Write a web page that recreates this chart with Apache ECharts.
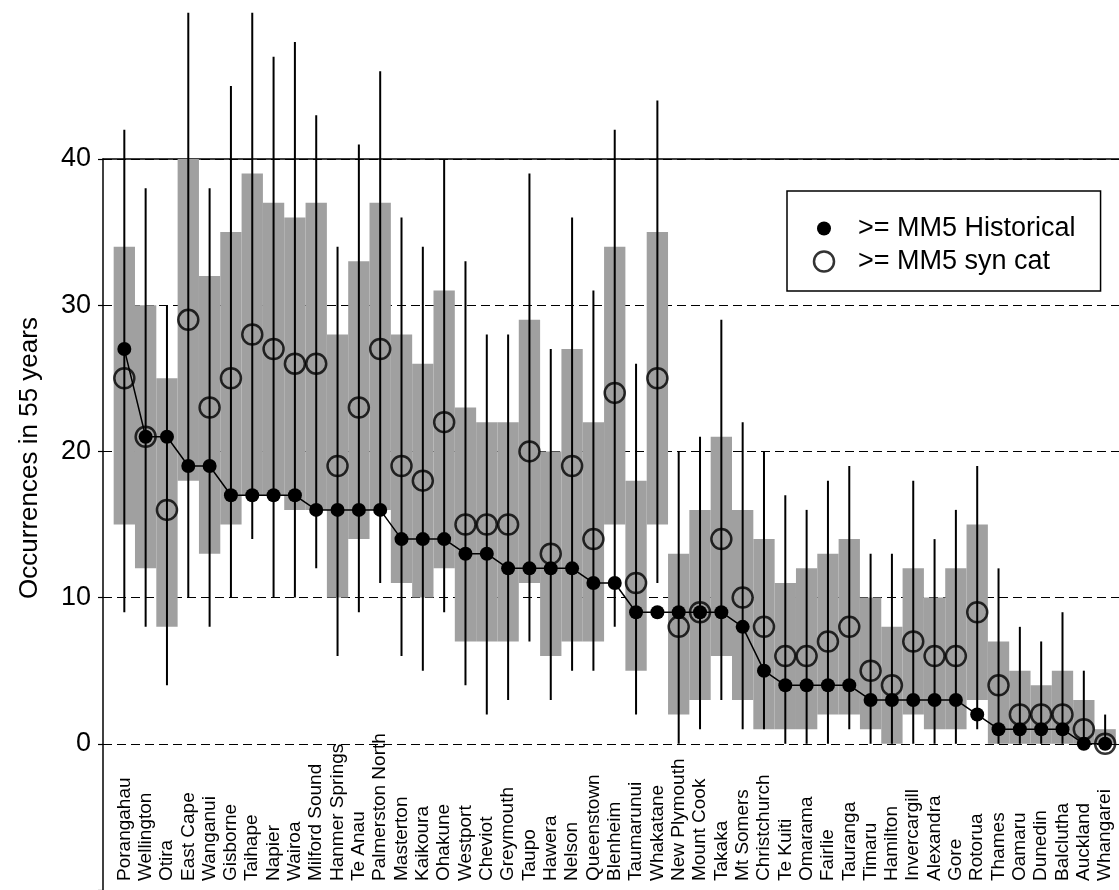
<!DOCTYPE html>
<html>
<head>
<meta charset="utf-8">
<script src="https://cdn.jsdelivr.net/npm/echarts@6/dist/echarts.min.js"></script>
<style>
  html, body { margin: 0; padding: 0; background: #fff; }
  #chart { width: 1119px; height: 890px; }
</style>
</head>
<body>
<div id="chart"></div>
<script>
const stations = [
  'Porangahau', 'Wellington', 'Otira', 'East Cape', 'Wanganui', 'Gisborne', 'Taihape', 'Napier',
  'Wairoa', 'Milford Sound', 'Hanmer Springs', 'Te Anau', 'Palmerston North', 'Masterton', 'Kaikoura',
  'Ohakune', 'Westport', 'Cheviot', 'Greymouth', 'Taupo', 'Hawera', 'Nelson', 'Queenstown', 'Blenheim',
  'Taumarunui', 'Whakatane', 'New Plymouth', 'Mount Cook', 'Takaka', 'Mt Somers', 'Christchurch',
  'Te Kuiti', 'Omarama', 'Fairlie', 'Tauranga', 'Timaru', 'Hamilton', 'Invercargill', 'Alexandra',
  'Gore', 'Rotorua', 'Thames', 'Oamaru', 'Dunedin', 'Balclutha', 'Auckland', 'Whangarei'
]

// >= MM5 Historical (filled dots)
const historical = [
  27, 21, 21, 19, 19, 17, 17, 17, 17, 16, 16, 16, 16, 14, 14, 14, 13, 13, 12, 12, 12, 12, 11, 11,
  9, 9, 9, 9, 9, 8, 5, 4, 4, 4, 4, 3, 3, 3, 3, 3, 2, 1, 1, 1, 1, 0, 0
]

// >= MM5 syn cat (open circles)
const synCat = [
  25, 21, 16, 29, 23, 25, 28, 27, 26, 26, 19, 23, 27, 19, 18, 22, 15, 15, 15, 20, 13, 19, 14, 24,
  11, 25, 8, 9, 14, 10, 8, 6, 6, 7, 8, 5, 4, 7, 6, 6, 9, 4, 2, 2, 2, 1, 0
]

// grey band
const bandLow = [
  15, 12, 8, 18, 13, 15, 17, 17, 16, 16, 10, 14, 16, 11, 10, 12, 7, 7, 7, 11, 6, 7, 7, 15,
  5, 15, 2, 3, 6, 3, 1, 1, 1, 2, 2, 1, 0, 2, 1, 1, 3, 0, 0, 0, 0, 0, 0
]
const bandHigh = [
  34, 30, 25, 40, 32, 35, 39, 37, 36, 37, 28, 33, 37, 28, 26, 31, 23, 22, 22, 29, 20, 27, 22, 34,
  18, 35, 13, 16, 21, 16, 14, 11, 12, 13, 14, 10, 8, 12, 10, 12, 15, 7, 5, 4, 5, 3, 1
]

// vertical lines
const rangeLow = [
  9, 8, 4, 10, 8, 10, 14, 10, 10, 12, 6, 9, 11, 6, 5, 9, 4, 2, 3, 7, 3, 5, 5, 8,
  2, 11, 0, 1, 3, 1, 1, 0, 0, 0, 1, 0, 0, 0, 0, 0, 1, 0, 0, 0, 0, 0, 0
]
const rangeHigh = [
  42, 38, 30, 50, 38, 45, 50, 47, 48, 43, 34, 41, 46, 36, 34, 40, 33, 28, 28, 39, 27, 36, 31, 42,
  26, 44, 20, 21, 29, 22, 20, 17, 16, 18, 19, 13, 13, 18, 14, 16, 19, 12, 8, 7, 9, 5, 2
]

const yTicks = [0, 10, 20, 30, 40]

const FONT = "'Liberation Sans', Arial, Helvetica, sans-serif"
const chart = echarts.init(document.getElementById('chart'))

const xs = stations.map((_, i) => i + 1)

chart.setOption({
  animation: false,
  backgroundColor: '#fff',
  grid: { left: 103, right: 0, top: 159, bottom: 0 },
  xAxis: [
    {
      type: 'value',
      min: 0,
      max: 47.65,
      interval: 1,
      axisLine: { show: false },
      axisTick: { show: false },
      splitLine: { show: false },
      axisLabel: {
        inside: true,
        rotate: 90,
        margin: 9,
        fontSize: 19,
        color: '#000',
        fontFamily: FONT,
        showMaxLabel: false,
        formatter: (v) => stations[v - 1] || ''
      }
    },
    {
      type: 'value',
      position: 'top',
      min: 0,
      max: 47.65,
      axisLine: { show: true, lineStyle: { color: '#000', width: 1.5 } },
      axisTick: { show: false },
      axisLabel: { show: false },
      splitLine: { show: false }
    }
  ],
  yAxis: {
    type: 'value',
    min: -10,
    max: 40,
    interval: 10,
    axisLine: { show: true, lineStyle: { color: '#000', width: 1.5 } },
    axisTick: { show: true, length: 5, lineStyle: { color: '#000', width: 1.2 } },
    axisLabel: {
      fontSize: 27,
      color: '#000',
      margin: 12,
      fontFamily: FONT,
      formatter: (v) => (yTicks.includes(v) ? String(v) : '')
    },
    splitLine: { lineStyle: { color: '#000', width: 1.2, type: [9, 5] } }
  },
  legend: {
    left: 787,
    top: 191,
    orient: 'vertical',
    padding: [24, 25, 16, 8],
    borderColor: '#000',
    borderWidth: 1.5,
    itemGap: 6,
    itemWidth: 58,
    itemHeight: 20,
    textStyle: { fontSize: 27, color: '#000', fontFamily: FONT },
    data: [
      {
        name: '>= MM5 Historical',
        icon: 'path://M0,0M58,20M22,10A7,7,0,1,1,36,10A7,7,0,1,1,22,10Z',
        itemStyle: { color: '#000' }
      },
      {
        name: '>= MM5 syn cat',
        icon: 'circle',
        itemStyle: { color: '#fff', borderColor: '#000', borderWidth: 2.5 }
      }
    ]
  },
  graphic: [
    {
      type: 'text',
      x: 30,
      y: 458,
      rotation: Math.PI / 2,
      style: {
        text: 'Occurrences in 55 years',
        fontSize: 26,
        fontFamily: FONT,
        fill: '#000',
        align: 'center',
        verticalAlign: 'middle'
      }
    }
  ],
  series: [
    {
      name: 'band',
      type: 'custom',
      z: 1,
      data: xs.map((x, i) => [x, bandLow[i], bandHigh[i]]),
      renderItem: (params, api) => {
        const x = api.value(0)
        const p1 = api.coord([x - 0.5, api.value(2)])
        const p2 = api.coord([x + 0.5, api.value(1)])
        return {
          type: 'rect',
          shape: { x: p1[0], y: p1[1], width: p2[0] - p1[0], height: p2[1] - p1[1] },
          style: { fill: '#a0a0a0' }
        }
      }
    },
    {
      name: 'range',
      type: 'custom',
      z: 3,
      data: xs.map((x, i) => [x, rangeLow[i], rangeHigh[i]]),
      renderItem: (params, api) => {
        const x = api.value(0)
        const a = api.coord([x, api.value(1)])
        const b = api.coord([x, api.value(2)])
        return {
          type: 'line',
          shape: { x1: a[0], y1: a[1], x2: b[0], y2: b[1] },
          style: { stroke: '#000', lineWidth: 2 }
        }
      }
    },
    {
      name: '>= MM5 Historical',
      type: 'line',
      z: 4,
      data: xs.map((x, i) => [x, historical[i]]),
      symbol: 'circle',
      symbolSize: 14,
      itemStyle: { color: '#000' },
      lineStyle: { color: '#000', width: 1.5 }
    },
    {
      name: '>= MM5 syn cat',
      type: 'scatter',
      z: 5,
      data: xs.map((x, i) => [x, synCat[i]]),
      symbol: 'circle',
      symbolSize: 20,
      itemStyle: { color: 'rgba(0,0,0,0)', borderColor: '#000', borderWidth: 2.5 }
    }
  ]
})
</script>
</body>
</html>
